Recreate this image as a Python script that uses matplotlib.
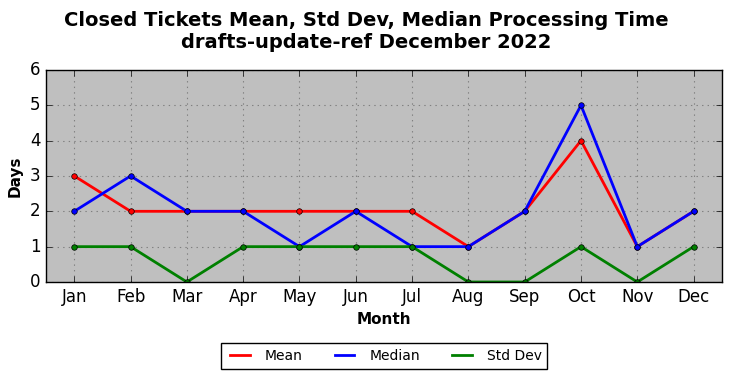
import numpy as np
import matplotlib
matplotlib.use('Agg')
import matplotlib.pyplot as plt
from matplotlib.lines import Line2D

plt.style.use('classic')

months = ['Jan', 'Feb', 'Mar', 'Apr', 'May', 'Jun', 'Jul', 'Aug', 'Sep', 'Oct', 'Nov', 'Dec']
mean_days = [3, 2, 2, 2, 2, 2, 2, 1, 2, 4, 1, 2]
median_days = [2, 3, 2, 2, 1, 2, 1, 1, 2, 5, 1, 2]
std_days = [1, 1, 0, 1, 1, 1, 1, 0, 0, 1, 0, 1]

series = [('Mean', mean_days, 'red'), ('Median', median_days, 'blue'), ('Std Dev', std_days, 'green')]

fig = plt.figure(figsize=(7.32, 3.78), dpi=100)
ax = fig.add_axes([0.063, 0.254, 0.923, 0.561])
ax.set_facecolor('#bfbfbf')

x = np.arange(len(months))
handles = []
for name, vals, col in series:
    ax.plot(x, vals, color=col, lw=2, marker='o', ms=4, mec='black')
    handles.append(Line2D([], [], color=col, lw=2, label=name))

ax.set_xlim(-0.5, 11.5)
ax.set_ylim(0, 6)
ax.set_xticks(x)
ax.set_xticklabels(months)
ax.grid(True, color='gray', linestyle=':', linewidth=0.8)
ax.set_axisbelow(True)

ax.set_xlabel('Month', fontweight='bold', fontsize=11)
ax.set_ylabel('Days', fontweight='bold', fontsize=11)
fig.suptitle('Closed Tickets Mean, Std Dev, Median Processing Time\ndrafts-update-ref December 2022',
             fontweight='bold', fontsize=14, y=0.972)

ax.legend(handles=handles, loc='upper center', bbox_to_anchor=(0.5, -0.29), ncol=3, fontsize=10,
          frameon=True, borderaxespad=0, columnspacing=2.0, handlelength=2.0)

fig.savefig('out.png', dpi=100, facecolor='white')
